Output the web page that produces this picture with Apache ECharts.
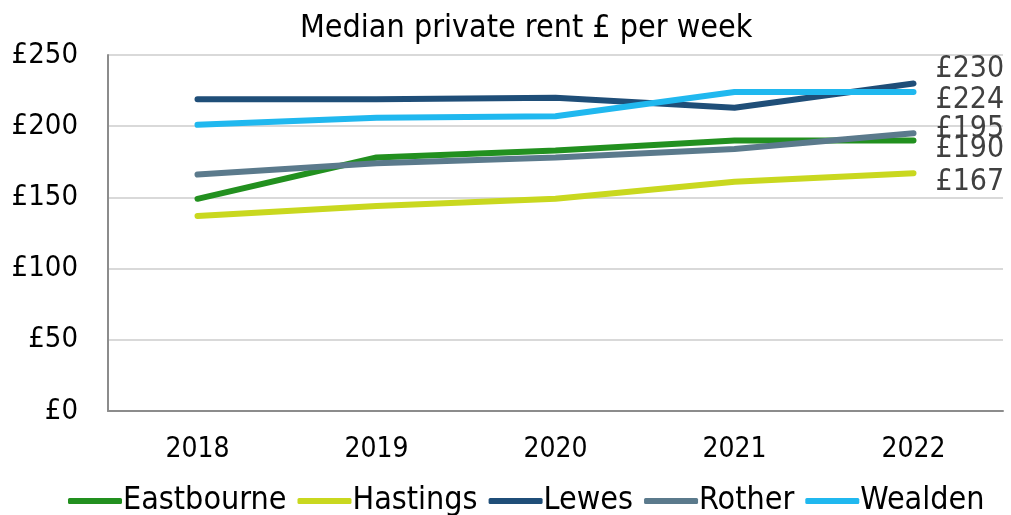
<!DOCTYPE html>
<html><head><meta charset="utf-8">
<script src="https://cdn.jsdelivr.net/npm/echarts@6/dist/echarts.min.js"></script>
<style>html,body{margin:0;padding:0;background:#fff}#c{width:1011px;height:515px}</style>
</head><body><div id="c"></div>
<script>
const categories = ['2018','2019','2020','2021','2022'];
const eastbourne = [149,178,183,190,190];
const hastings = [137,144,149,161,167];
const lewes = [219,219,220,213,230];
const rother = [166,174,178,184,195];
const wealden = [201,206,207,224,224];
const yTicks = [0,50,100,150,200,250];

const FONT = '"DejaVu Sans Condensed", "DejaVu Sans", sans-serif';
const names = ['Eastbourne','Hastings','Lewes','Rother','Wealden'];
const colors = ['#22901f','#c9d81f','#1f4e78','#5b7a8c','#20b8ef'];
const datas = [eastbourne,hastings,lewes,rother,wealden];
const offsets = [[0,9],[0,9],[0,-14],[0,-4],[0,8]];

const chart = echarts.init(document.getElementById('c'), null, {renderer:'canvas'});
chart.setOption({
  animation:false,
  title:{text:'Median private rent £ per week',left:295,top:8,
    textStyle:{fontFamily:FONT,fontSize:32,fontWeight:'normal',color:'#000'}},
  legend:{bottom:-7,left:63,itemWidth:54,itemHeight:6,itemGap:11,icon:'roundRect',
    textStyle:{fontFamily:FONT,fontSize:32,color:'#000',padding:[0,0,0,-4]},
    data:names},
  grid:{left:108,right:8,top:55,bottom:104},
  xAxis:{type:'category',data:categories,boundaryGap:true,
    axisLine:{lineStyle:{color:'#8c8c8c',width:2}},axisTick:{show:false},
    axisLabel:{fontFamily:FONT,fontSize:28,color:'#000',margin:25}},
  yAxis:{type:'value',min:0,max:250,interval:50,
    axisLine:{show:true,lineStyle:{color:'#8c8c8c',width:2}},axisTick:{show:false},
    splitLine:{lineStyle:{color:'#d9d9d9',width:2}},
    axisLabel:{fontFamily:FONT,fontSize:29,color:'#000',margin:30,
      formatter:v=>yTicks.includes(v)?'£'+v:''}},
  series:names.map((n,i)=>({
    name:n,type:'line',data:datas[i],symbol:'none',
    lineStyle:{width:6,color:colors[i],cap:'round'},itemStyle:{color:colors[i]},
    endLabel:{show:true,formatter:p=>'£'+p.value,fontFamily:FONT,fontSize:30,
      color:'#404040',distance:22,offset:offsets[i]}
  }))
});
</script></body></html>
